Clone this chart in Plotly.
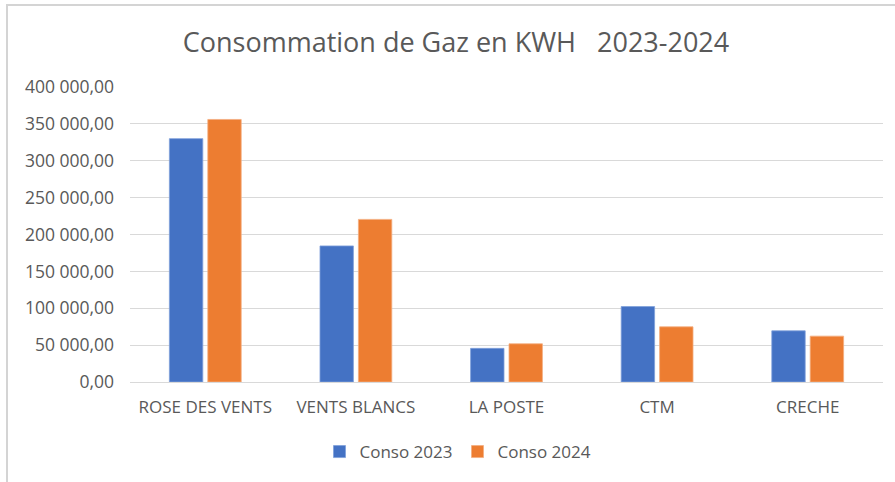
import plotly.graph_objects as go

categories = ["ROSE DES VENTS", "VENTS BLANCS", "LA POSTE", "CTM", "CRECHE"]
conso_2023 = [330000, 184500, 45600, 102300, 69400]
conso_2024 = [356000, 220500, 51800, 74800, 62200]
series_names = ["Conso 2023", "Conso 2024"]

W, H = 895, 482
L, R, T, B = 130, 12, 87, 100
pw = W - L - R
ph = H - T - B

def px_x(p):
    return (p - L) / pw

def px_y(p):
    return (H - B - p) / ph

fig = go.Figure()
fig.add_trace(go.Bar(x=categories, y=conso_2023, name=series_names[0],
                     marker=dict(color="#4472C4", line=dict(color="#7fa0db", width=0.8))))
fig.add_trace(go.Bar(x=categories, y=conso_2024, name=series_names[1],
                     marker=dict(color="#ED7D31", line=dict(color="#f4ad7f", width=0.8))))

font_family = "Open Sans, Segoe UI, DejaVu Sans, sans-serif"
fig.update_layout(
    width=W, height=H,
    margin=dict(l=L, r=R, t=T, b=B, autoexpand=False),
    paper_bgcolor="white", plot_bgcolor="white",
    separators=", ",
    barmode="group", bargap=0.49, bargroupgap=0.13,
    font=dict(family=font_family, color="#595959", size=17),
    title=dict(text="Consommation de Gaz en KWH   2023-2024",
               x=px_x(456), xref="paper", xanchor="center",
               y=1 - 43 / H, yanchor="middle",
               font=dict(size=27, color="#595959", family=font_family)),
    xaxis=dict(showgrid=False, showline=False, ticks="",
               ticklabelstandoff=13,
               tickfont=dict(size=17, color="#595959")),
    yaxis=dict(range=[0, 400000], dtick=50000, tickformat=",.2f",
               showgrid=True, gridcolor="#d9d9d9", gridwidth=1.2,
               zeroline=True, zerolinecolor="#d9d9d9", zerolinewidth=1.2,
               showline=False, ticks="", ticklabelstandoff=15,
               tickfont=dict(size=17.5, color="#595959")),
    showlegend=True,
    legend=dict(orientation="h", x=px_x(458), xanchor="center",
                y=px_y(452), yanchor="middle",
                font=dict(size=17, color="#595959"),
                itemwidth=30, traceorder="normal"),
    shapes=[dict(type="rect", xref="paper", yref="paper",
                 x0=px_x(7), x1=px_x(905), y0=px_y(495), y1=px_y(5),
                 line=dict(color="#d4d4d4", width=2), layer="below")],
)

fig.write_html("out.html", post_script="document.body.style.margin='0';",
               config={"displayModeBar": False})
